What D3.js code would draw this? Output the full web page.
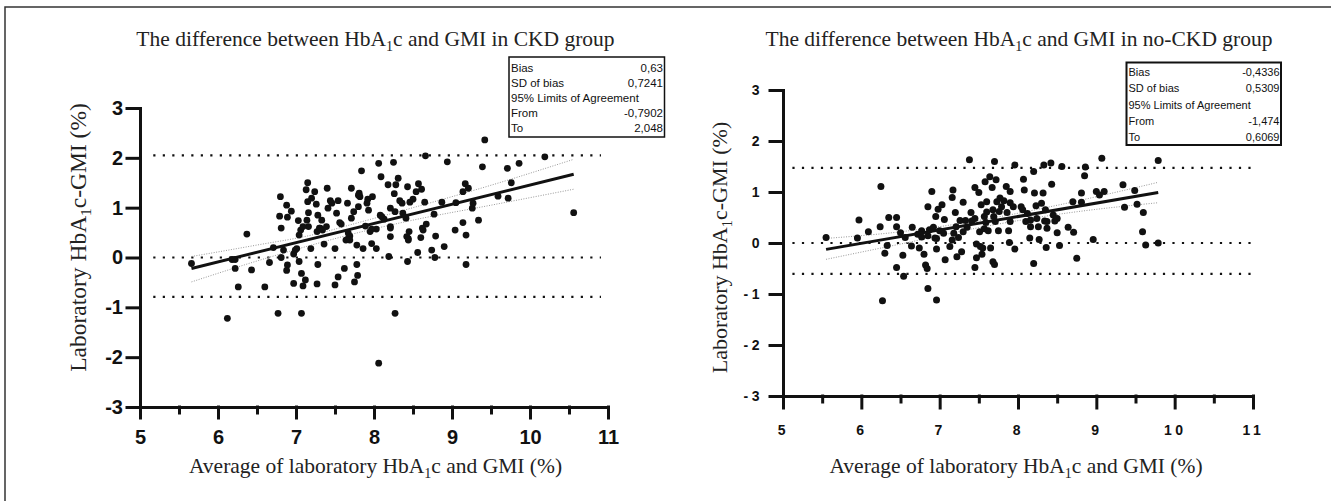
<!DOCTYPE html>
<html>
<head>
<meta charset="utf-8">
<script src="https://cdn.jsdelivr.net/npm/d3@7"></script>
<style>
body { margin: 0; background: #fff; }
svg { display: block; }
.serif { font-family: "Liberation Serif", "Times New Roman", serif; fill: #222; }
.box text { font-family: "Liberation Sans", Arial, sans-serif; fill: #111; }
.axis text { font-family: "Liberation Sans", Arial, sans-serif; font-weight: bold; fill: #111; }
.axis path, .axis line { stroke: #111; stroke-width: 3; stroke-linecap: square; }
</style>
</head>
<body>
<svg id="chart" width="1331" height="501"></svg>
<script>
// ---- data ----
var xTicks = [5, 6, 7, 8, 9, 10, 11];
var xMinorTicks = [5.5, 6.5, 7.5, 8.5, 9.5, 10.5];
var yTicks = [-3, -2, -1, 0, 1, 2, 3];

var statLabels = ["Bias", "SD of bias", "95% Limits of Agreement", "From", "To"];
var ckdStats = ["0,63", "0,7241", "", "-0,7902", "2,048"];
var noCkdStats = ["-0,4336", "0,5309", "", "-1,474", "0,6069"];

// dotted reference lines (upper limit, zero, lower limit)
var ckdRefLines = [2.048, 0, -0.7902];
var noCkdRefLines = [1.474, 0, -0.6069];

// CKD group: average (x) and difference (y)
var ckdAvg = [
  5.66,6.12,6.18,6.22,6.22,6.26,6.37,6.43,6.60,6.66,
  6.71,6.77,6.80,6.79,6.81,6.81,6.84,6.88,6.89,6.94,
  6.89,6.88,6.97,6.97,7.01,7.03,7.04,7.04,7.06,7.07,
  7.07,7.09,7.12,7.13,7.15,7.15,7.16,7.16,7.19,7.20,
  7.24,7.26,7.27,7.28,7.27,7.28,7.30,7.33,7.34,7.36,
  7.39,7.40,7.41,7.44,7.50,7.50,7.52,7.54,7.54,7.56,
  7.58,7.62,7.64,7.66,7.67,7.69,7.71,7.71,7.74,7.75,
  7.78,7.78,7.79,7.80,7.81,7.82,7.84,7.86,7.89,7.92,
  7.93,7.95,7.97,7.98,8.03,8.03,8.06,8.09,8.10,8.13,
  8.18,8.19,8.21,8.21,8.21,8.25,8.26,8.27,8.27,8.28,
  8.31,8.33,8.36,8.37,8.41,8.43,8.43,8.44,8.45,8.46,
  8.50,8.54,8.56,8.57,8.60,8.61,8.63,8.65,8.66,8.67,
  8.74,8.77,8.78,8.79,8.87,8.90,8.94,9.04,9.05,9.14,
  9.14,9.17,9.18,9.18,9.21,9.26,9.27,9.34,9.39,9.42,
  9.59,9.72,9.71,9.76,9.86,10.19,10.56,8.06,6.99,7.09,
  7.31,7.67,7.69,7.80,8.08,8.21,8.42,8.44,8.62,7.91,
  7.97,7.46,7.14
];
var ckdDiff = [
  -0.12,-1.22,-0.04,-0.04,-0.22,-0.59,0.47,-0.25,-0.59,-0.10,
  0.20,-1.12,1.22,0.83,0.59,0.00,0.15,1.05,0.81,0.93,
  -0.15,-0.26,0.07,-0.52,0.18,0.74,-0.08,0.45,0.55,-1.12,
  -0.32,-0.57,-0.45,1.36,1.50,1.12,0.90,0.62,0.18,1.19,
  1.32,1.07,0.52,-0.14,-0.53,0.85,0.59,0.75,0.55,0.27,
  0.62,1.39,0.99,1.14,0.18,-0.55,0.89,1.14,-0.39,0.70,
  0.67,-0.22,0.35,1.09,0.38,0.43,1.39,0.79,0.92,-0.49,
  0.25,-0.14,-0.36,1.02,1.29,1.22,1.74,0.18,0.63,1.17,
  0.95,0.52,0.28,1.22,0.18,0.57,1.89,1.62,0.82,0.77,
  1.46,0.02,0.62,0.42,0.99,1.91,1.28,0.92,-1.12,1.46,
  1.59,1.14,1.09,0.89,0.79,1.42,-0.08,0.38,0.52,1.11,
  1.17,1.32,0.10,1.48,0.40,1.37,0.55,1.11,2.04,0.67,
  0.15,0.87,0.00,0.43,1.11,0.22,1.92,0.55,1.10,0.70,
  1.32,1.48,-0.14,0.45,1.39,0.99,1.09,0.75,1.82,2.36,
  1.23,1.19,1.79,1.50,1.89,2.02,0.90,-2.12,0.15,0.62,
  0.59,0.49,0.35,1.25,0.85,0.59,0.42,0.35,0.59,1.09,
  0.57,1.09,0.75
];
var ckdFitX = [5.66, 10.56];
var ckdFitY = [-0.22, 1.67];
var ckdBandX = [5.66, 6.5, 7.2, 7.8, 8.5, 9.5, 10.56];
var ckdBandHi = [0.02, 0.25, 0.45, 0.70, 1.00, 1.45, 1.97];
var ckdBandLo = [-0.49, -0.07, 0.25, 0.50, 0.75, 1.05, 1.37];

// no-CKD group
var noCkdAvg = [
  5.55,5.95,5.97,6.09,6.24,6.25,6.27,6.30,6.33,6.35,
  6.45,6.45,6.45,6.50,6.53,6.54,6.56,6.64,6.65,6.72,
  6.74,6.77,6.80,6.82,6.84,6.85,6.85,6.85,6.87,6.90,
  6.92,6.94,6.95,6.96,6.96,6.98,7.00,7.03,7.05,7.06,
  7.07,7.13,7.16,7.16,7.17,7.20,7.21,7.22,7.24,7.26,
  7.28,7.30,7.30,7.33,7.38,7.40,7.41,7.45,7.45,7.45,
  7.47,7.47,7.50,7.51,7.52,7.53,7.54,7.55,7.57,7.58,
  7.59,7.60,7.60,7.62,7.64,7.65,7.67,7.68,7.68,7.70,
  7.70,7.71,7.72,7.73,7.75,7.76,7.77,7.79,7.82,7.85,
  7.86,7.88,7.89,7.90,7.90,7.90,7.96,7.96,8.04,8.06,
  8.07,8.08,8.10,8.12,8.15,8.16,8.20,8.20,8.21,8.23,
  8.24,8.26,8.27,8.30,8.32,8.33,8.34,8.35,8.36,8.37,
  8.42,8.43,8.45,8.47,8.50,8.53,8.56,8.64,8.70,8.71,
  8.75,8.81,8.81,8.85,8.86,8.96,9.00,9.04,9.07,9.10,
  9.34,9.36,9.49,9.52,9.59,9.60,9.63,9.79,9.79,7.35,
  7.57,7.69,7.94,8.16,6.96,6.77,7.18,8.37,8.50
];
var noCkdDiff = [
  0.11,0.10,0.45,0.22,0.32,1.11,-1.13,-0.20,-0.05,0.50,
  0.50,0.32,-0.48,0.20,-0.24,-0.65,0.11,-0.06,0.31,0.17,
  -0.10,0.24,-0.22,-0.43,-0.50,0.14,0.71,-0.89,0.26,1.01,
  0.31,0.10,0.52,-1.12,-0.12,0.66,0.24,0.75,0.19,0.46,
  -0.33,-0.07,0.89,0.06,1.04,0.60,0.32,-0.27,0.11,0.44,
  -0.17,0.22,0.80,0.44,1.63,0.60,0.43,1.09,-0.48,0.48,
  -0.29,-0.02,0.99,0.22,-0.07,0.75,-0.22,-0.10,0.28,1.20,
  0.40,0.81,0.61,0.24,1.30,-0.10,1.09,0.65,-0.37,1.60,
  -0.42,0.42,1.24,0.81,0.24,0.62,0.88,0.71,0.83,1.11,
  0.60,0.24,0.01,0.79,1.01,0.42,1.53,-0.12,0.71,0.65,
  1.25,1.04,0.42,0.58,0.10,0.32,-0.40,1.40,0.98,0.73,
  0.48,0.32,0.07,0.78,0.98,1.53,0.43,0.65,-0.09,0.29,
  1.57,1.15,0.55,0.43,0.20,-0.05,1.50,0.31,0.81,0.21,
  -0.30,0.98,0.80,1.32,1.49,0.07,1.01,0.94,1.66,1.01,
  1.14,0.70,1.03,0.76,0.22,0.60,-0.04,1.62,0.00,0.31,
  0.52,0.52,0.71,0.45,0.09,0.12,0.19,0.42,0.48
];
var noCkdFitX = [5.55, 9.79];
var noCkdFitY = [-0.125, 0.99];
var noCkdBandX = [5.55, 6.5, 7.6, 8.5, 9.79];
var noCkdBandHi = [0.09, 0.22, 0.47, 0.74, 1.19];
var noCkdBandLo = [-0.32, -0.02, 0.33, 0.56, 0.79];

var svg = d3.select("#chart");

// outer frame (only the top and left edges fall inside the picture)
svg.append("rect")
   .attr("x", 5).attr("y", 7)
   .attr("width", 1345).attr("height", 510)
   .attr("fill", "none")
   .attr("stroke", "#333")
   .attr("stroke-width", 1.5);

// text with a subscript "1" after "HbA"
function subText(sel, before, after, subSize, shift) {
    sel.append("tspan").text(before);
    sel.append("tspan").attr("dy", shift).attr("font-size", subSize).text("1");
    sel.append("tspan").attr("dy", -shift).text(after);
}

function drawPanel(p) {
    var x = d3.scaleLinear().domain([5, 11]).range(p.xRange);
    var y = d3.scaleLinear().domain([-3, 3]).range(p.yRange);
    var g = svg.append("g");

    // title
    var t = g.append("text").attr("class", "serif")
        .attr("x", p.titleX).attr("y", 46)
        .attr("text-anchor", "middle")
        .attr("font-size", 21.5);
    subText(t, "The difference between HbA", "c and GMI in " + p.group + " group", 14, 5);

    // axis titles
    var xt = g.append("text").attr("class", "serif")
        .attr("x", p.xTitleX).attr("y", 473)
        .attr("text-anchor", "middle")
        .attr("font-size", 21.5);
    subText(xt, "Average of laboratory HbA", "c and GMI (%)", 14, 5);

    var yt = g.append("text").attr("class", "serif")
        .attr("transform", "translate(" + p.yTitle + ") rotate(-90)")
        .attr("text-anchor", "middle")
        .attr("font-size", p.yTitleSize);
    subText(yt, "Laboratory HbA", "c-GMI (%)", p.yTitleSize * 0.65, 5);

    // dotted reference lines
    g.selectAll(".ref").data(p.refLines).enter()
        .append("line")
        .attr("x1", x(p.refFrom)).attr("x2", x(p.refTo))
        .attr("y1", d => y(d)).attr("y2", d => y(d))
        .attr("stroke", "#111")
        .attr("stroke-width", 2.2)
        .attr("stroke-dasharray", "2.2,7.3");

    // confidence band of the fit
    var bandLine = d3.line().curve(d3.curveMonotoneX)
        .x(d => x(d[0])).y(d => y(d[1]));
    [p.bandHi, p.bandLo].forEach(function(b) {
        g.append("path")
         .attr("d", bandLine(p.bandX.map((v, i) => [v, b[i]])))
         .attr("fill", "none")
         .attr("stroke", "#999")
         .attr("stroke-width", 1)
         .attr("stroke-dasharray", "1,1.5");
    });

    // points
    g.selectAll(".pt").data(p.avg).enter()
        .append("circle")
        .attr("cx", d => x(d))
        .attr("cy", (d, i) => y(p.diff[i]))
        .attr("r", p.r)
        .attr("fill", "#111");

    // regression line
    g.append("line")
        .attr("x1", x(p.fitX[0])).attr("y1", y(p.fitY[0]))
        .attr("x2", x(p.fitX[1])).attr("y2", y(p.fitY[1]))
        .attr("stroke", "#111")
        .attr("stroke-width", 3);

    // axes
    var fmt = d => String(d);
    var ya = g.append("g").attr("class", "axis")
        .attr("transform", "translate(" + p.xRange[0] + ",0)")
        .call(d3.axisLeft(y).tickValues(yTicks).tickSize(13)
              .tickPadding(p.yPad).tickSizeOuter(0).tickFormat(fmt));
    var xa = g.append("g").attr("class", "axis")
        .attr("transform", "translate(0," + p.yRange[0] + ")")
        .call(d3.axisBottom(x).tickValues(xTicks).tickSize(p.xTick)
              .tickPadding(p.xPad).tickSizeOuter(0).tickFormat(fmt));
    var xm = g.append("g").attr("class", "axis")
        .attr("transform", "translate(0," + p.yRange[0] + ")")
        .call(d3.axisBottom(x).tickValues(xMinorTicks).tickSize(6).tickFormat(""));
    xm.select(".domain").remove();
    [ya, xa].forEach(function(a) {
        a.selectAll("text")
         .attr("font-size", p.tickFont)
         .style("letter-spacing", p.spacing + "px");
    });

    // stats box
    var box = g.append("g").attr("class", "box");
    box.append("rect")
       .attr("x", p.box[0]).attr("y", p.box[1])
       .attr("width", p.box[2]).attr("height", p.box[3])
       .attr("fill", "#fff")
       .attr("stroke", "#111")
       .attr("stroke-width", p.boxStroke);
    statLabels.forEach(function(lab, i) {
        var yy = p.box[1] + p.rowTop + i * p.rowStep;
        box.append("text")
           .attr("x", p.box[0] + 2).attr("y", yy)
           .attr("font-size", p.boxFont)
           .text(lab);
        box.append("text")
           .attr("x", p.box[0] + p.box[2] - 1.5).attr("y", yy)
           .attr("text-anchor", "end")
           .attr("font-size", p.boxFont)
           .text(p.stats[i]);
    });
}

drawPanel({
    group: "CKD", xRange: [140, 608], yRange: [407, 108],
    titleX: 375.5, xTitleX: 375.5, yTitle: [86, 237.5], yTitleSize: 23.5,
    avg: ckdAvg, diff: ckdDiff, r: 3.4,
    refLines: ckdRefLines, refFrom: 5.17, refTo: 10.91,
    fitX: ckdFitX, fitY: ckdFitY,
    bandX: ckdBandX, bandHi: ckdBandHi, bandLo: ckdBandLo,
    tickFont: 20, spacing: 0, yPad: 4, xTick: 11, xPad: 12,
    stats: ckdStats, box: [509, 57, 155.5, 80], boxStroke: 1.5,
    boxFont: 11.5, rowTop: 15.2, rowStep: 15
});

drawPanel({
    group: "no-CKD", xRange: [783, 1253], yRange: [396, 90],
    titleX: 1019, xTitleX: 1016, yTitle: [727, 247.5], yTitleSize: 22,
    avg: noCkdAvg, diff: noCkdDiff, r: 3.5,
    refLines: noCkdRefLines, refFrom: 5.12, refTo: 11,
    fitX: noCkdFitX, fitY: noCkdFitY,
    bandX: noCkdBandX, bandHi: noCkdBandHi, bandLo: noCkdBandLo,
    tickFont: 14, spacing: 3.5, yPad: 7, xTick: 12, xPad: 17,
    stats: noCkdStats, box: [1126.5, 62.5, 154.5, 82.5], boxStroke: 2,
    boxFont: 11, rowTop: 13.8, rowStep: 16.1
});
</script>
</body>
</html>
